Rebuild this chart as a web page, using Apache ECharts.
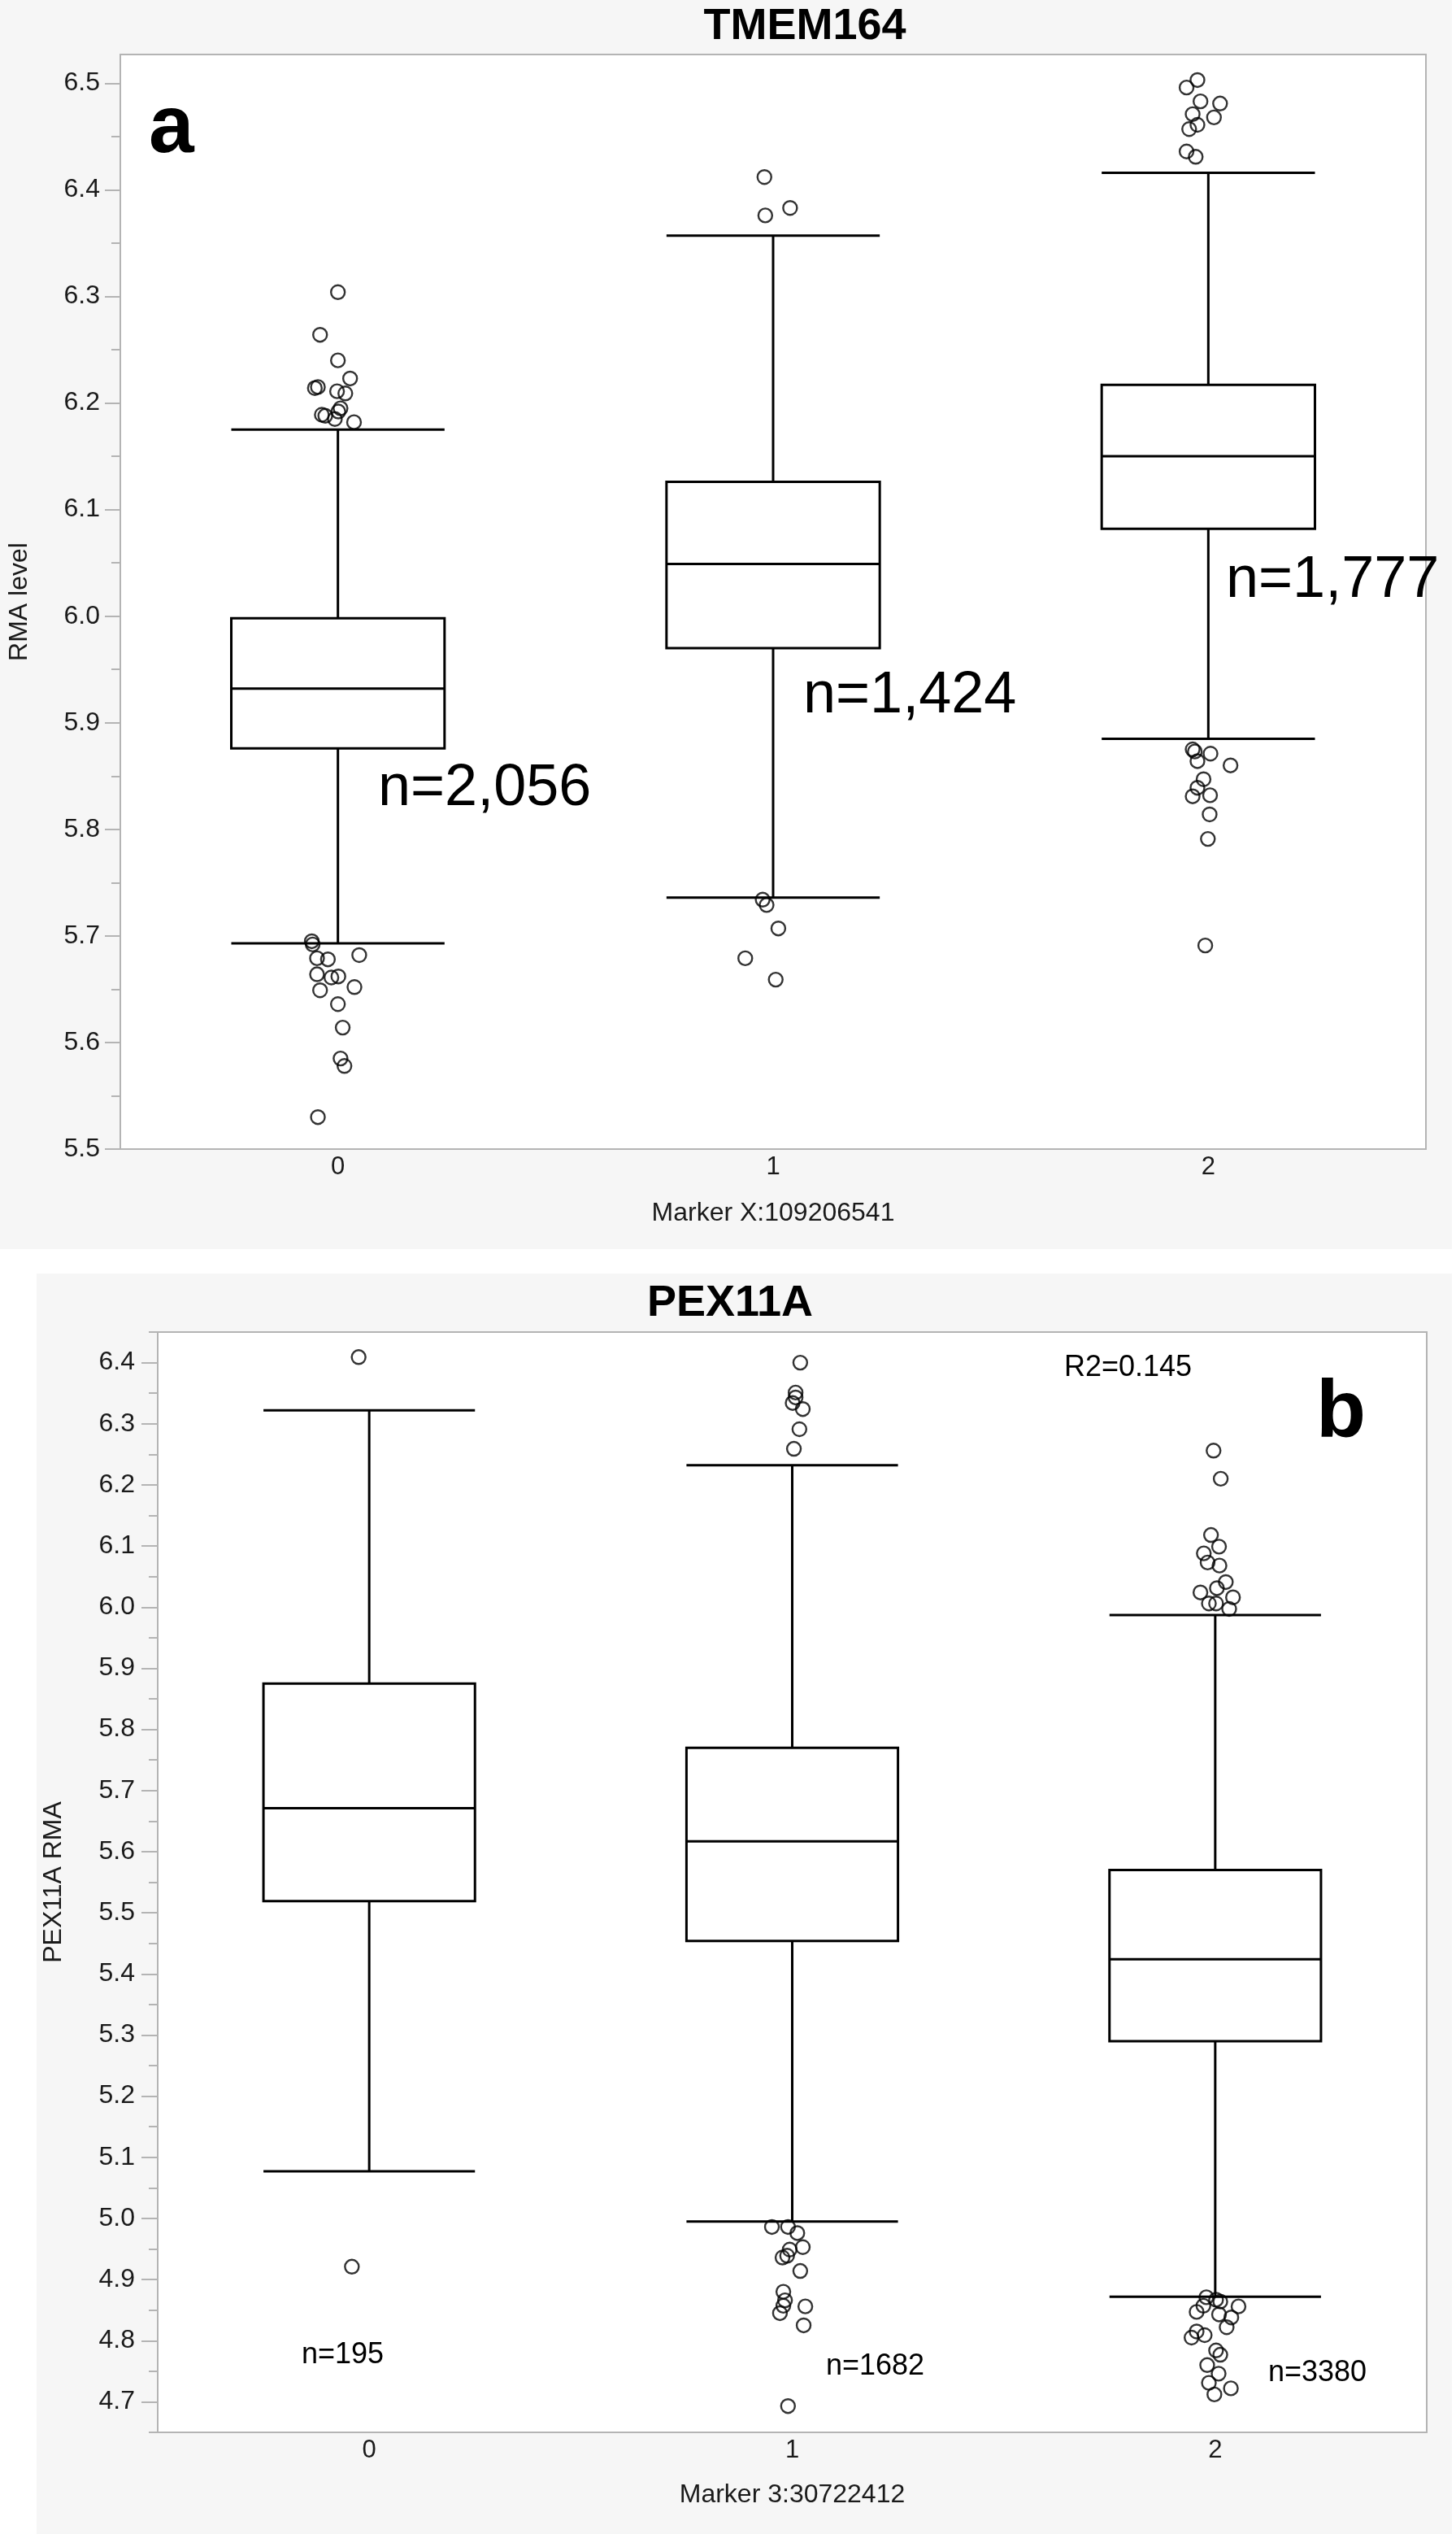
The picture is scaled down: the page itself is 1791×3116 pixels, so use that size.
<!DOCTYPE html>
<html>
<head>
<meta charset="utf-8">
<title>TMEM164 / PEX11A</title>
<script src="https://cdn.jsdelivr.net/npm/echarts@6.0.0/dist/echarts.min.js"></script>
<style>
  html, body { margin: 0; padding: 0; background: #fff; }
  #chart { width: 1791px; height: 3116px; }
</style>
</head>
<body>
<div id="chart"></div>
<script>
// categories (genotype of the marker)
var categories = ['0', '1', '2'];

// box stats: [low whisker, Q1, median, Q3, high whisker]
var tmemBoxes = [
    [5.693, 5.876, 5.932, 5.998, 6.175],
    [5.736, 5.970, 6.049, 6.126, 6.357],
    [5.885, 6.082, 6.150, 6.217, 6.416]
];
var pexBoxes = [
    [5.077, 5.519, 5.671, 5.875, 6.322],
    [4.995, 5.454, 5.617, 5.770, 6.232],
    [4.872, 5.290, 5.424, 5.570, 5.987]
];

// outliers: [horizontal jitter (category units), value]
var tmemOut0 = [
    [0.000, 6.304], [-0.041, 6.264], [0.000, 6.240], [0.028, 6.223], [-0.053, 6.214],
    [-0.046, 6.215], [-0.002, 6.211], [0.017, 6.209], [0.006, 6.195], [0.001, 6.192],
    [-0.037, 6.189], [-0.029, 6.188], [-0.007, 6.185], [0.037, 6.182],
    [-0.060, 5.695], [-0.058, 5.692], [0.049, 5.682], [-0.048, 5.679], [-0.023, 5.678],
    [-0.048, 5.664], [0.001, 5.662], [-0.015, 5.661], [0.038, 5.652], [-0.041, 5.649],
    [0.000, 5.636], [0.011, 5.614], [0.006, 5.585], [0.015, 5.578], [-0.046, 5.530]
];
var tmemOut1 = [
    [-0.020, 6.412], [0.039, 6.383], [-0.018, 6.376],
    [-0.024, 5.734], [-0.015, 5.729], [0.012, 5.707], [-0.064, 5.679], [0.006, 5.659]
];
var tmemOut2 = [
    [-0.025, 6.503], [-0.050, 6.496], [-0.018, 6.483], [0.027, 6.481], [-0.036, 6.471],
    [0.013, 6.468], [-0.025, 6.461], [-0.044, 6.457], [-0.050, 6.436], [-0.029, 6.431],
    [-0.036, 5.875], [-0.031, 5.873], [0.005, 5.871], [-0.025, 5.864], [0.051, 5.860],
    [-0.011, 5.847], [-0.025, 5.839], [-0.036, 5.831], [0.004, 5.832], [0.003, 5.814],
    [-0.001, 5.791], [-0.007, 5.691]
];
var pexOut0 = [[-0.025, 6.409], [-0.041, 4.921]];
var pexOut1 = [
    [0.019, 6.400], [0.008, 6.351], [0.008, 6.343], [0.001, 6.334], [0.025, 6.324],
    [0.017, 6.291], [0.004, 6.259],
    [-0.048, 4.986], [-0.010, 4.986], [0.012, 4.976], [0.025, 4.953], [-0.006, 4.949],
    [-0.012, 4.939], [-0.023, 4.936], [0.019, 4.914], [-0.021, 4.880], [-0.017, 4.866],
    [-0.021, 4.857], [0.031, 4.856], [-0.029, 4.845], [0.027, 4.825], [-0.010, 4.693]
];
var pexOut2 = [
    [-0.004, 6.256], [0.013, 6.210], [-0.010, 6.118], [0.009, 6.099], [-0.027, 6.088],
    [-0.018, 6.073], [0.010, 6.068], [0.025, 6.041], [0.004, 6.031], [-0.035, 6.024],
    [0.042, 6.016], [-0.015, 6.006], [0.002, 6.006], [0.033, 5.997],
    [-0.021, 4.871], [0.002, 4.867], [0.012, 4.864], [-0.028, 4.857], [0.055, 4.856],
    [-0.044, 4.847], [0.009, 4.843], [0.038, 4.838], [0.027, 4.822], [-0.044, 4.815],
    [-0.025, 4.809], [-0.056, 4.805], [0.002, 4.784], [0.012, 4.777], [-0.019, 4.760],
    [0.008, 4.746], [-0.015, 4.731], [0.037, 4.722], [-0.002, 4.712]
];

// y tick values
var tmemTicks = [5.5, 5.6, 5.7, 5.8, 5.9, 6.0, 6.1, 6.2, 6.3, 6.4, 6.5];
var tmemMinor = [5.55, 5.65, 5.75, 5.85, 5.95, 6.05, 6.15, 6.25, 6.35, 6.45];
var pexTicks = [4.7, 4.8, 4.9, 5.0, 5.1, 5.2, 5.3, 5.4, 5.5, 5.6, 5.7, 5.8, 5.9, 6.0, 6.1, 6.2, 6.3, 6.4];
var pexMinor = [4.65, 4.75, 4.85, 4.95, 5.05, 5.15, 5.25, 5.35, 5.45, 5.55, 5.65, 5.75,
    5.85, 5.95, 6.05, 6.15, 6.25, 6.35, 6.45];

var FONT = '"Liberation Sans", Arial, Helvetica, sans-serif';
var AXIS_GRAY = '#b4b4b4';
var TEXT = '#1a1a1a';

// turn per-group jitter lists into [x, y] points on the hidden value x axis
function jitterPoints(groups) {
    var pts = [];
    groups.forEach(function (g, i) {
        g.forEach(function (p) {
            pts.push([i + p[0], p[1]]);
        });
    });
    return pts;
}

function mainY(grid, min, max, ticks, name, gap, margin, tickLen) {
    return {
        gridIndex: grid, type: 'value', position: 'left', min: min, max: max,
        name: name, nameLocation: 'middle', nameGap: gap,
        nameTextStyle: {fontSize: 32, color: TEXT, fontFamily: FONT},
        axisLine: {show: true, onZero: false, lineStyle: {color: AXIS_GRAY, width: 2}},
        axisTick: {show: true, length: tickLen, customValues: ticks, lineStyle: {color: AXIS_GRAY, width: 2}},
        axisLabel: {
            customValues: ticks, margin: margin, fontSize: 32, color: TEXT, fontFamily: FONT,
            formatter: function (v) { return v.toFixed(1); }
        },
        splitLine: {show: false}
    };
}

// second y axis only for the short half-step ticks
function minorY(grid, min, max, minor) {
    return {
        gridIndex: grid, type: 'value', position: 'left', min: min, max: max,
        axisLine: {show: false, onZero: false},
        axisTick: {show: true, length: 11, customValues: minor, lineStyle: {color: AXIS_GRAY, width: 2}},
        axisLabel: {show: false},
        splitLine: {show: false}
    };
}

function catX(grid, name, gap) {
    return {
        gridIndex: grid, type: 'category', data: categories, position: 'bottom',
        name: name, nameLocation: 'middle', nameGap: gap,
        nameTextStyle: {fontSize: 32, color: TEXT, fontFamily: FONT},
        axisLine: {show: true, onZero: false, lineStyle: {color: AXIS_GRAY, width: 2}},
        axisTick: {show: false},
        axisLabel: {margin: 7, fontSize: 31, color: TEXT, fontFamily: FONT},
        splitLine: {show: false}
    };
}

function jitterX(grid) {
    return {
        gridIndex: grid, type: 'value', min: -0.5, max: 2.5, position: 'bottom',
        axisLine: {show: false, onZero: false}, axisTick: {show: false},
        axisLabel: {show: false}, splitLine: {show: false}
    };
}

function boxSeries(x, y, data, width) {
    return {
        type: 'boxplot', xAxisIndex: x, yAxisIndex: y, data: data,
        boxWidth: [width, width], silent: true,
        itemStyle: {color: '#fff', borderColor: '#000', borderWidth: 3}
    };
}

function dotSeries(x, y, data) {
    return {
        type: 'scatter', xAxisIndex: x, yAxisIndex: y, data: data, z: 5,
        symbol: 'circle', symbolSize: 17, silent: true,
        itemStyle: {color: 'rgba(255,255,255,0)', borderColor: '#000', borderWidth: 2.4}
    };
}

function label(text, x, y, size, bold, align) {
    return {
        type: 'text', x: x, y: y, z: 100, silent: true,
        style: {
            text: text, fill: '#000', fontSize: size, fontFamily: FONT,
            fontWeight: bold ? 'bold' : 'normal',
            align: align || 'left', verticalAlign: 'middle'
        }
    };
}

var chart = echarts.init(document.getElementById('chart'), null, {renderer: 'canvas'});

var option = {
    animation: false,
    backgroundColor: '#fff',
    textStyle: {fontFamily: FONT},
    grid: [
        {left: 148, top: 67, width: 1606, height: 1346, show: true,
            backgroundColor: '#fff', borderColor: AXIS_GRAY, borderWidth: 2},
        {left: 194, top: 1638, width: 1561, height: 1353, show: true,
            backgroundColor: '#fff', borderColor: AXIS_GRAY, borderWidth: 2}
    ],
    xAxis: [
        catX(0, 'Marker X:109206541', 63),
        jitterX(0),
        catX(1, 'Marker 3:30722412', 61),
        jitterX(1)
    ],
    yAxis: [
        mainY(0, 5.5, 6.527, tmemTicks, 'RMA level', 108, 25, 19),
        minorY(0, 5.5, 6.527, tmemMinor),
        mainY(1, 4.65, 6.45, pexTicks, 'PEX11A RMA', 112, 28, 20),
        minorY(1, 4.65, 6.45, pexMinor)
    ],
    series: [
        boxSeries(0, 0, tmemBoxes, '49%'),
        dotSeries(1, 0, jitterPoints([tmemOut0, tmemOut1, tmemOut2])),
        boxSeries(2, 2, pexBoxes, '50%'),
        dotSeries(3, 2, jitterPoints([pexOut0, pexOut1, pexOut2]))
    ],
    graphic: [
        // panel backgrounds
        {type: 'rect', z: -10, silent: true, shape: {x: 0, y: 0, width: 1786, height: 1536}, style: {fill: '#f6f6f6'}},
        {type: 'rect', z: -10, silent: true, shape: {x: 45, y: 1566, width: 1741, height: 1550}, style: {fill: '#f6f6f6'}},
        // titles
        label('TMEM164', 990, 33, 54, true, 'center'),
        label('PEX11A', 898, 1603, 54, true, 'center'),
        // panel letters
        label('a', 183, 159, 100, true),
        label('b', 1619, 1739, 100, true),
        // annotations
        label('n=2,056', 465, 970, 72),
        label('n=1,424', 988, 856, 72),
        label('n=1,777', 1508, 714, 72),
        label('R2=0.145', 1309, 1682, 36),
        label('n=195', 371, 2896, 36),
        label('n=1682', 1016, 2910, 36),
        label('n=3380', 1560, 2918, 36)
    ]
};

chart.setOption(option);
</script>
</body>
</html>
